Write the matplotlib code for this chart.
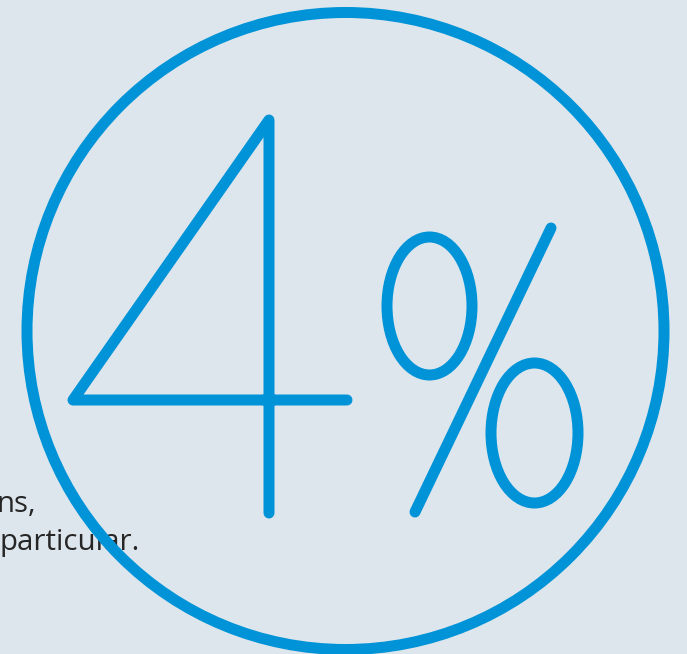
import matplotlib
matplotlib.use("Agg")
import matplotlib.pyplot as plt
from matplotlib.patches import Circle, Ellipse

# ---- content ----
value_label = "4%"
caption_lines = ["ns,", "particular."]

# ---- glyph geometry (pixel space of the 687x654 canvas) ----
ring_center = (345.5, 331.0)
ring_radius = 318.5
four_x = [347, 73, 269, 269]
four_y = [400, 400, 120, 513]
slash_x = [551, 415]
slash_y = [228, 512]
zero_top = (429.5, 306.0, 85, 138)
zero_bottom = (534.5, 433.0, 87, 140)
caption_right = [36, 140]
caption_baseline = [511.5, 550]

BG = "#DDE6ED"
BLUE = "#0093D7"
TEXT = "#262626"
LW = 11 * 72 / 100  # 11 px stroke

fig = plt.figure(figsize=(6.87, 6.54), dpi=100, facecolor=BG)
ax = fig.add_axes([0, 0, 1, 1])
ax.set_facecolor(BG)
ax.set_xlim(0, 687)
ax.set_ylim(654, 0)
ax.axis("off")

# caption text (partially cut off at the left edge, as in the reference)
for s, xr, yb in zip(caption_lines, caption_right, caption_baseline):
    ax.text(xr, yb, s, ha="right", va="baseline", fontsize=21.2,
            family=["Open Sans", "DejaVu Sans"], color=TEXT, zorder=1)

# ring
ax.add_patch(Circle(ring_center, ring_radius, fill=False, lw=LW,
                    edgecolor=BLUE, zorder=3))

# the "4"
ax.plot(four_x, four_y, color=BLUE, lw=LW, solid_capstyle="round",
        solid_joinstyle="round", zorder=3)

# the "%"
ax.plot(slash_x, slash_y, color=BLUE, lw=LW, solid_capstyle="round", zorder=3)
for cx, cy, w, h in (zero_top, zero_bottom):
    ax.add_patch(Ellipse((cx, cy), w, h, fill=False, lw=LW,
                         edgecolor=BLUE, zorder=3))

fig.savefig("out.png", dpi=100, facecolor=BG)
